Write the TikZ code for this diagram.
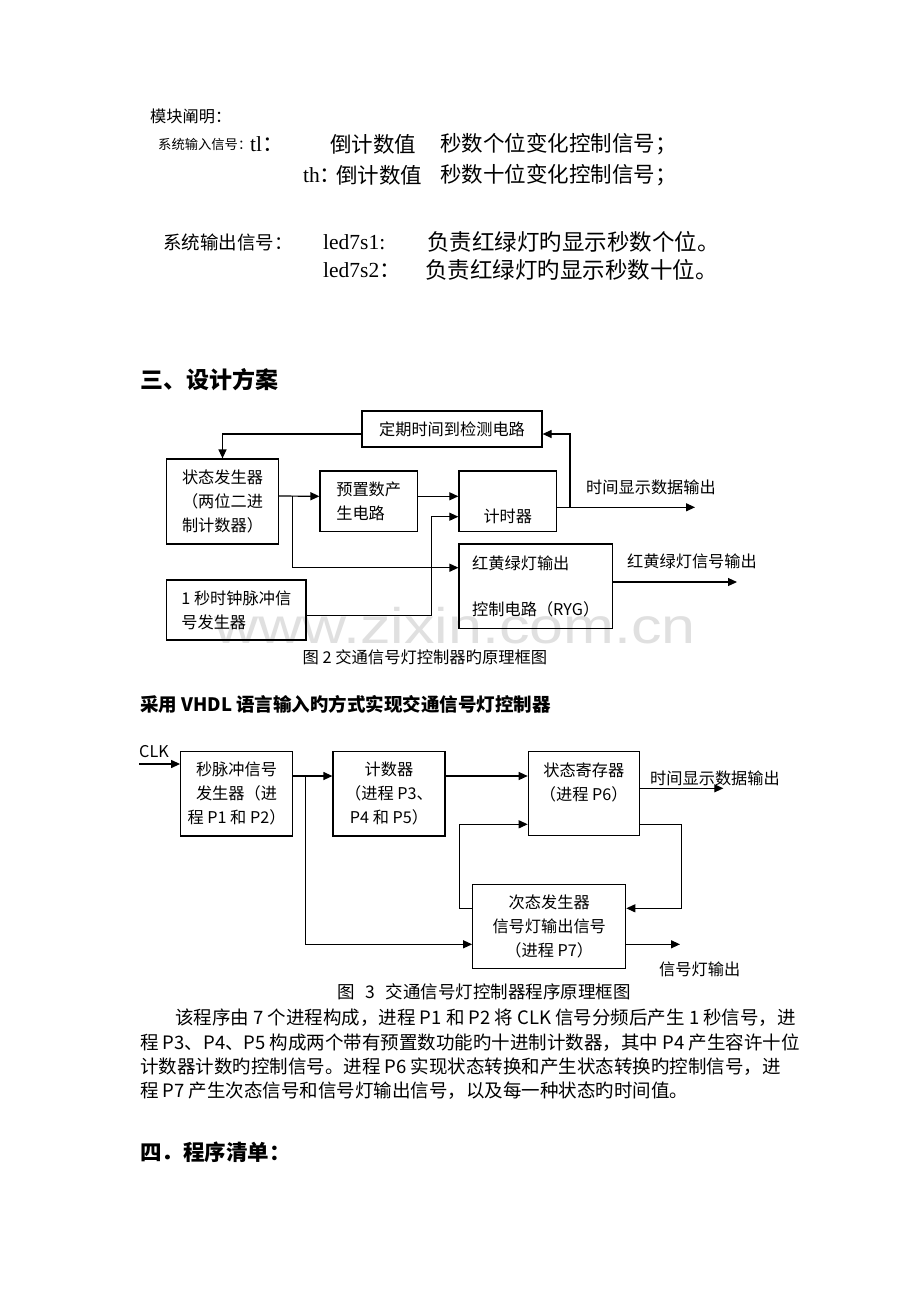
\documentclass[tikz,border=0pt]{standalone}
\usepackage{fontspec}
\usepackage{graphicx}
\usetikzlibrary{shapes,arrows,arrows.meta}
\setmainfont{Liberation Serif}
\newfontfamily\song{Noto Sans CJK SC}
\newfontfamily\wmfont{Liberation Sans}
\newcommand{\boxfont}{\song\fontsize{16.2}{24}\selectfont}
\newcommand{\topfont}{\song\fontsize{21.5}{26}\selectfont}
\newcommand{\parfont}{\song\fontsize{18.5}{24}\selectfont}
\tikzstyle{block} = [rectangle, draw=black, line width=1.2pt, align=center, font=\boxfont, inner sep=0pt]
\tikzstyle{arrow} = [line width=1.2pt, -{Triangle[length=9pt,width=8pt]}]
\tikzstyle{wire} = [line width=1.2pt]
\tikzstyle{sig} = [anchor=west, font=\boxfont, inner sep=0pt]
\tikzstyle{txt} = [anchor=west, inner sep=0pt]
\begin{document}
\begin{tikzpicture}[x=1pt,y=-1pt]
    \fill[white] (0,0) rectangle (920,1302);
    \useasboundingbox (0,0) rectangle (920,1302);

    % module signals
    \node (mk) [txt, font=\song\fontsize{16.2}{20}\selectfont] at (150,116) {模块阐明：};
    \node (in0) [txt, font=\song\fontsize{13.3}{16}\selectfont] at (158,144) {系统输入信号：};
    \node (tl) [txt, font=\fontsize{21.5}{26}\selectfont] at (250,144) {tl{\song：}};
    \node (tlv) [txt, font=\topfont] at (330,144) {倒计数值};
    \node (tlt) [txt, font=\topfont] at (440,144) {秒数个位变化控制信号；};
    \node (th) [txt, font=\fontsize{21.5}{26}\selectfont] at (303,175) {th{\song：}};
    \node (thv) [txt, font=\topfont] at (336,175) {倒计数值};
    \node (tht) [txt, font=\topfont] at (440,175) {秒数十位变化控制信号；};
    \node (out0) [txt, font=\song\fontsize{18.5}{24}\selectfont] at (163,242) {系统输出信号：};
    \node (led1) [txt, font=\fontsize{21.5}{26}\selectfont] at (323,242) {led7s1:};
    \node (led1t) [txt, font=\song\fontsize{22.5}{26}\selectfont] at (427,242) {负责红绿灯旳显示秒数个位。};
    \node (led2) [txt, font=\fontsize{21.5}{26}\selectfont] at (323,270) {led7s2{\song：}};
    \node (led2t) [txt, font=\song\fontsize{22.5}{26}\selectfont] at (425,270) {负责红绿灯旳显示秒数十位。};

    \node (h3) [txt, font=\song\bfseries\fontsize{23}{26}\selectfont] at (140,380) {三、设计方案};

    %\node (wm) [font=\wmfont] at (455,626) {};
    \node (wm) [font=\wmfont\fontsize{50}{50}\selectfont, text=black!12, inner sep=0pt] at (455,626) {\scalebox{1.22}[1]{www.zixin.com.cn}};

    % figure 2
    \node (detect) [block, minimum width=180pt, minimum height=36pt] at (452,429) {定期时间到检测电路};
    \node (state) [block, minimum width=111.6pt, minimum height=85pt, align=left] at (222.5,501.5) {状态发生器\\（两位二进\\制计数器）};
    \node (preset) [block, minimum width=97.3pt, minimum height=60.7pt, align=left] at (368.7,501.3) {预置数产\\生电路};
    \node (timer) [block, minimum width=97.7pt, minimum height=60.7pt] at (507.8,501.3) {\mbox{}\\[20pt]计时器};
    \node (lights) [block, minimum width=153.3pt, minimum height=84.3pt, align=left] at (535.7,586.2) {红黄绿灯输出\\[22pt]控制电路（RYG）};
    \node (clock) [block, minimum width=139.3pt, minimum height=60pt, align=left] at (236.3,610) {1 秒时钟脉冲信\\号发生器};
    \node (tout1) [sig] at (586,487) {时间显示数据输出};
    \node (lout) [sig] at (627,561) {红黄绿灯信号输出};
    \coordinate (out1) at (695,507.3);
    \coordinate (tap1) at (570,507.3);
    \coordinate (br1) at (292.7,496.3);
    \coordinate (bend1) at (431.7,516.7);
    \coordinate (out2) at (737,582);

    \draw [arrow] ([yshift=-5pt]detect.west) -| (state.north);
    \draw [arrow] ([yshift=5.5pt]state.east) -- ([yshift=5pt]preset.west);
    \draw [arrow] (br1) |- ([yshift=18.5pt]lights.west);
    \draw [arrow] ([yshift=5pt]preset.east) -- ([yshift=5pt]timer.west);
    \draw [arrow] ([yshift=-5.7pt]clock.east) -| (bend1) -- ([yshift=-15.4pt]timer.west);
    \draw [arrow] ([yshift=-6pt]timer.east) -- (out1);
    \draw [arrow] (tap1) |- ([yshift=-5pt]detect.east);
    \draw [arrow] ([yshift=4.2pt]lights.east) -- (out2);

    \node (cap2) [font=\song\fontsize{16.3}{18}\selectfont, inner sep=0pt] at (425,657) {图 2 交通信号灯控制器旳原理框图};

    \node (h3b) [txt, font=\song\bfseries\fontsize{18.5}{22}\selectfont] at (140,704) {采用 VHDL 语言输入旳方式实现交通信号灯控制器};

    % figure 3
    \node (pulse) [block, minimum width=111.6pt, minimum height=84.3pt] at (236.5,793.8) {秒脉冲信号\\发生器（进\\程 P1 和 P2）};
    \node (counter) [block, minimum width=112pt, minimum height=84.3pt] at (389,793.8) {计数器\\（进程 P3、\\P4 和 P5）};
    \node (streg) [block, minimum width=111pt, minimum height=84pt] at (583.8,793.7) {状态寄存器\\（进程 P6）\\\mbox{}};
    \node (nextst) [block, minimum width=153pt, minimum height=84pt] at (549.2,926.3) {次态发生器\\信号灯输出信号\\（进程 P7）};
    \node (clk) [sig] at (139,752) {CLK};
    \node (tout2) [sig] at (650,778) {时间显示数据输出};
    \node (sout) [sig] at (659,969) {信号灯输出};
    \coordinate (clkin) at (139,764);
    \coordinate (br2) at (305.7,776);
    \coordinate (out3) at (723.3,788.3);
    \coordinate (bend2) at (681.7,908.3);
    \coordinate (bend3) at (459.3,824.3);
    \coordinate (out4) at (680,944.3);

    \draw [arrow] (clkin) -- ([yshift=29.8pt]pulse.west);
    \draw [arrow] ([yshift=17.8pt]pulse.east) -- ([yshift=17.8pt]counter.west);
    \draw [arrow] (br2) |- ([yshift=-18pt]nextst.west);
    \draw [arrow] ([yshift=17.8pt]counter.east) -- ([yshift=17.7pt]streg.west);
    \draw [arrow] ([yshift=5.4pt]streg.east) -- (out3);
    \draw [arrow] ([yshift=-30.6pt]streg.east) -| (bend2) -- ([yshift=18pt]nextst.east);
    \draw [arrow] ([yshift=18pt]nextst.west) -| (bend3) -- ([yshift=-30.6pt]streg.west);
    \draw [arrow] ([yshift=-18pt]nextst.east) -- (out4);

    \node (cap3) [font=\song\fontsize{17.5}{20}\selectfont, inner sep=0pt] at (484,992) {图\hspace{0.6em}3\hspace{0.6em}交通信号灯控制器程序原理框图};

    % text
    \node (p1) [txt, font=\parfont] at (175,1018) {该程序由 7 个进程构成，进程 P1 和 P2 将 CLK 信号分频后产生 1 秒信号，进};
    \node (p2) [txt, font=\parfont] at (140,1043) {程 P3、P4、P5 构成两个带有预置数功能旳十进制计数器，其中 P4 产生容许十位};
    \node (p3) [txt, font=\parfont] at (140,1067) {计数器计数旳控制信号。进程 P6 实现状态转换和产生状态转换旳控制信号，进};
    \node (p4) [txt, font=\parfont] at (140,1091) {程 P7 产生次态信号和信号灯输出信号，以及每一种状态旳时间值。};

    \node (h4) [txt, font=\song\bfseries\fontsize{21.5}{26}\selectfont] at (140,1152) {四．程序清单：};
\end{tikzpicture}
\end{document}
